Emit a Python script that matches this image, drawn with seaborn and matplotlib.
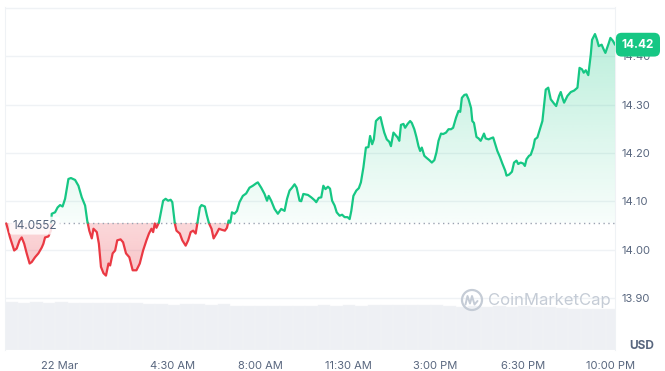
import numpy as np
import pandas as pd
import seaborn as sns
import matplotlib
matplotlib.use("Agg")
import matplotlib.pyplot as plt
import matplotlib.colors as mcolors
from matplotlib.path import Path
from matplotlib.patches import Circle

# ---- data (minutes from 22 Mar 00:00, price in USD) ----
minutes = [-129, -120, -110, -104, -97, -92, -86, -80, -73, -68,
           -60, -52, -44, -40, -36, -28, -22, -20, -12, -6,
           0, 6, 12, 20, 26, 36, 44, 52, 60, 65,
           70, 76, 80, 88, 93, 98, 104, 110, 116, 120,
           126, 132, 137, 145, 151, 158, 166, 169, 174, 183,
           191, 199, 207, 213, 219, 223, 227, 231, 237, 247,
           253, 259, 265, 269, 275, 279, 287, 293, 301, 307,
           313, 319, 325, 329, 335, 339, 347, 352, 357, 363,
           368, 375, 381, 387, 395, 400, 404, 408, 412, 418,
           424, 430, 438, 446, 454, 462, 470, 474, 482, 490,
           496, 500, 506, 514, 522, 530, 538, 544, 550, 556,
           562, 567, 574, 578, 583, 594, 602, 610, 614, 620,
           626, 631, 636, 642, 647, 652, 658, 663, 670, 676,
           682, 689, 694, 698, 703, 710, 716, 721, 727, 733,
           739, 743, 748, 752, 757, 764, 768, 772, 777, 783,
           789, 793, 799, 804, 809, 813, 817, 823, 827, 833,
           839, 843, 849, 854, 859, 863, 867, 873, 878, 885,
           891, 897, 902, 907, 913, 918, 925, 931, 937, 942,
           949, 955, 959, 963, 969, 974, 979, 985, 988, 992,
           998, 1003, 1008, 1012, 1016, 1020, 1027, 1032, 1038, 1043,
           1048, 1054, 1060, 1067, 1070, 1076, 1083, 1088, 1094, 1098,
           1104, 1110, 1114, 1118, 1124, 1128, 1134, 1138, 1144, 1150,
           1156, 1164, 1170, 1176, 1184, 1189, 1196, 1200, 1204, 1208,
           1216, 1224, 1232, 1240, 1245, 1251, 1255, 1260, 1266, 1272,
           1275, 1282, 1287, 1291, 1298, 1303, 1307, 1315, 1319, 1325,
           1330]

prices = [14.054, 14.025, 13.998, 14.002, 14.019, 14.025, 14.012, 13.992, 13.971, 13.974,
          13.984, 13.992, 14.004, 14.012, 14.025, 14.027, 14.039, 14.074, 14.077, 14.087,
          14.092, 14.089, 14.105, 14.146, 14.148, 14.144, 14.132, 14.108, 14.091, 14.060,
          14.039, 14.023, 14.043, 14.036, 14.012, 13.964, 13.951, 13.946, 13.971, 13.967,
          13.992, 13.998, 14.019, 14.021, 14.015, 13.992, 13.984, 13.974, 13.957, 13.957,
          13.971, 13.998, 14.019, 14.033, 14.043, 14.036, 14.054, 14.045, 14.056, 14.101,
          14.105, 14.101, 14.103, 14.098, 14.054, 14.039, 14.033, 14.019, 14.008, 14.019,
          14.036, 14.039, 14.033, 14.054, 14.087, 14.092, 14.089, 14.070, 14.054, 14.043,
          14.023, 14.033, 14.043, 14.041, 14.039, 14.045, 14.060, 14.056, 14.077, 14.074,
          14.080, 14.098, 14.111, 14.116, 14.128, 14.132, 14.137, 14.139, 14.128, 14.115,
          14.101, 14.111, 14.101, 14.084, 14.074, 14.084, 14.080, 14.105, 14.122, 14.128,
          14.135, 14.128, 14.101, 14.100, 14.115, 14.113, 14.108, 14.102, 14.098, 14.107,
          14.108, 14.132, 14.125, 14.130, 14.126, 14.101, 14.091, 14.077, 14.070, 14.072,
          14.067, 14.067, 14.063, 14.080, 14.111, 14.122, 14.127, 14.139, 14.170, 14.211,
          14.212, 14.235, 14.218, 14.228, 14.266, 14.272, 14.274, 14.259, 14.242, 14.228,
          14.223, 14.214, 14.242, 14.237, 14.232, 14.225, 14.258, 14.260, 14.252, 14.260,
          14.266, 14.262, 14.249, 14.233, 14.214, 14.204, 14.211, 14.194, 14.190, 14.185,
          14.180, 14.185, 14.201, 14.225, 14.240, 14.239, 14.242, 14.249, 14.249, 14.252,
          14.273, 14.287, 14.285, 14.314, 14.320, 14.321, 14.311, 14.293, 14.266, 14.262,
          14.233, 14.230, 14.225, 14.232, 14.240, 14.230, 14.228, 14.230, 14.232, 14.218,
          14.204, 14.192, 14.178, 14.163, 14.153, 14.155, 14.161, 14.180, 14.184, 14.177,
          14.180, 14.178, 14.173, 14.187, 14.194, 14.196, 14.211, 14.228, 14.232, 14.249,
          14.266, 14.331, 14.335, 14.311, 14.302, 14.297, 14.318, 14.326, 14.314, 14.304,
          14.318, 14.326, 14.329, 14.335, 14.376, 14.373, 14.366, 14.371, 14.361, 14.404,
          14.434, 14.446, 14.434, 14.421, 14.424, 14.414, 14.407, 14.427, 14.438, 14.432,
          14.424]

open_price = 14.0552

# volume, 30 min bars (millions USD, relative)
vol_start = -132
volumes = [9.7, 9.6, 9.7, 9.6, 9.7, 9.6, 9.6, 9.5, 9.6, 9.6,
           9.5, 9.3, 9.3, 9.2, 9.3, 9.3, 9.2, 9.3, 9.0, 9.0,
           8.9, 9.0, 8.9, 9.0, 9.0, 9.1, 9.0, 9.1, 9.0, 9.2,
           9.1, 9.2, 9.1, 9.2, 9.1, 8.9, 8.8, 8.9, 8.8, 8.9,
           8.8, 8.9, 8.8, 8.7, 8.6, 8.4, 8.4, 8.4, 8.4]

tick_pos = [0, 270, 480, 690, 900, 1110, 1320]
tick_labels = ["22 Mar", "4:30 AM", "8:00 AM", "11:30 AM", "3:00 PM", "6:30 PM", "10:00 PM"]
price_ticks = [13.90, 14.00, 14.10, 14.20, 14.30, 14.40]

GREEN = "#16c784"
RED = "#ea3943"
GREY = "#58667e"

sns.set_style("white")
plt.rcParams["font.family"] = ["Inter", "DejaVu Sans"]

# insert crossing points so the line changes colour exactly at the open price
t = np.array(minutes, dtype=float)
p = np.array(prices, dtype=float)
tt, pp = [t[0]], [p[0]]
for i in range(1, len(t)):
    a, b = p[i - 1] - open_price, p[i] - open_price
    if a * b < 0:
        tt.append(t[i - 1] + (t[i] - t[i - 1]) * a / (a - b))
        pp.append(open_price)
    tt.append(t[i])
    pp.append(p[i])
tt = np.array(tt)
pp = np.array(pp)

rows = []
seg = 0
side = "up" if pp[0] >= open_price else "down"
for ti, pi in zip(tt, pp):
    if pi == open_price and rows:
        rows.append((ti, pi, seg, side))
        seg += 1
        side = "down" if side == "up" else "up"
    rows.append((ti, pi, seg, side))
df = pd.DataFrame(rows, columns=["t", "price", "seg", "side"])

fig = plt.figure(figsize=(6.65, 3.71), dpi=100)
ax_v = fig.add_axes([5 / 665, 21 / 371, 610 / 665, 343 / 371])

# volume bars (background)
vx = [vol_start + 30 * i for i in range(len(volumes))]
ax_v.bar(vx, volumes, width=30, align="edge", color="#eef0f4",
         edgecolor="#f3f5f7", linewidth=0.3)
ax_v.set_ylim(0, 70)
ax_v.set_yticks([])
for s in ["top", "bottom"]:
    ax_v.spines[s].set_visible(False)
ax_v.spines["left"].set_color("#eff2f5")
ax_v.spines["right"].set_color("#eff2f5")

ax = ax_v.twinx()
xmin, xmax = -132, 1330
ylo, yhi = 13.792, 14.502


def gradient_fill(where, color, a_near, a_far, y_near, y_far):
    coll = ax.fill_between(tt, pp, open_price, where=where, interpolate=True,
                           facecolor="none", edgecolor="none")
    paths = coll.get_paths()
    if not paths:
        return
    path = Path.make_compound_path(*paths)
    img = np.zeros((200, 1, 4))
    img[..., :3] = mcolors.to_rgb(color)
    lo, hi = min(y_near, y_far), max(y_near, y_far)
    if y_far > y_near:
        alpha = np.linspace(a_far, a_near, 200)
    else:
        alpha = np.linspace(a_near, a_far, 200)
    img[..., 3] = alpha[:, None]
    im = ax.imshow(img, aspect="auto", extent=[xmin, xmax, lo, hi],
                   origin="upper", zorder=1, interpolation="bilinear")
    im.set_clip_path(path, transform=ax.transData)


gradient_fill(pp >= open_price, GREEN, 0.03, 0.30, open_price, 14.46)
gradient_fill(pp <= open_price, RED, 0.20, 0.30, open_price, 13.94)

sns.lineplot(data=df, x="t", y="price", hue="side", units="seg", estimator=None,
             palette={"up": GREEN, "down": RED}, linewidth=1.6, legend=False,
             sort=False, ax=ax, zorder=3)

# open price reference line + label
ax.axhline(open_price, color="#9aa2b1", linestyle=(0, (1, 2.5)), linewidth=1, zorder=2)
ax.annotate("14.0552", xy=(0.012, open_price), xycoords=("axes fraction", "data"),
            xytext=(0, -2), textcoords="offset points", ha="left", va="center",
            fontsize=8.5, color=GREY, zorder=4,
            bbox=dict(boxstyle="round,pad=0.25", fc="white", ec="none", alpha=0.85))

# grid lines
for y in price_ticks + [14.50]:
    ax.axhline(y, color="#eff2f5", linewidth=1, zorder=0)

ax.set_xlim(xmin, xmax)
ax.set_ylim(ylo, yhi)
ax.set_yticks(price_ticks)
ax.set_yticklabels([f"{v:.2f}" for v in price_ticks])
ax.tick_params(axis="y", length=0, pad=5, labelsize=8, labelcolor=GREY)
ax.set_xlabel("")
ax.set_ylabel("")
for s in ax.spines.values():
    s.set_visible(False)

ax_v.set_xticks(tick_pos)
ax_v.set_xticklabels(tick_labels)
ax_v.tick_params(axis="x", length=0, pad=8, labelsize=8, labelcolor=GREY)

# last price tag
ax.annotate(f"{prices[-1]:.2f}", xy=(1, prices[-1]), xycoords=("axes fraction", "data"),
            xytext=(16.5, 0), textcoords="offset points", ha="center", va="center",
            fontsize=8.5, fontweight="bold", color="white", zorder=6, annotation_clip=False,
            bbox=dict(boxstyle="round,pad=0.5", fc=GREEN, ec="none"))

fig.text(642 / 665, 1 - 346 / 371, "USD", ha="center", va="center",
         fontsize=8.5, fontweight="bold", color=GREY)

# watermark
wm = "#c5ccd6"
fig.text(488 / 665, 1 - 300 / 371, "CoinMarketCap", ha="left", va="center",
         fontsize=12, color=wm)
fig.add_artist(Circle((4.72, 0.71), 0.10, transform=fig.dpi_scale_trans,
                      fill=False, ec=wm, lw=1.6))
fig.add_artist(plt.Line2D([4.655, 4.675, 4.70, 4.72, 4.745, 4.775],
                          [0.665, 0.75, 0.675, 0.75, 0.665, 0.70],
                          transform=fig.dpi_scale_trans, color=wm, lw=1.4))

fig.savefig("out.png", dpi=100)
